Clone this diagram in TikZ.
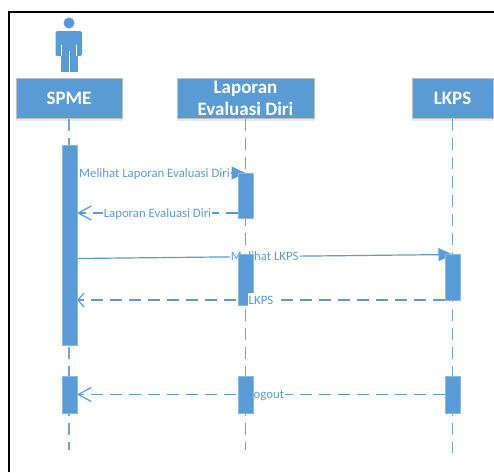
\documentclass[tikz,border=0pt]{standalone}
\usepackage{fontspec}
\setmainfont{Carlito}
\usetikzlibrary{arrows.meta,shadows}
\definecolor{umlblue}{HTML}{5B9BD5}
\begin{document}
\begin{tikzpicture}[
x=1pt,y=-1pt,
head/.style={rectangle, draw=black!25, line width=1pt, fill=umlblue, text=white, font=\fontsize{19}{22}\selectfont\bfseries, align=center, inner sep=0pt, minimum height=40pt, drop shadow={shadow xshift=0pt, shadow yshift=-3pt, fill=umlblue, opacity=.2}},
bar/.style={rectangle, fill=umlblue, draw=umlblue!70, line width=.5pt, inner sep=0pt, minimum width=15pt},
lifeline/.style={umlblue!90, line width=1.5pt, dash pattern=on 12pt off 7pt},
call/.style={umlblue, line width=1.2pt, -{Triangle[length=14pt,width=13pt]}},
back/.style={umlblue, line width=1.2pt, dash pattern=on 12pt off 7pt, -{Straight Barb[length=13pt,width=14pt]}},
backsmall/.style={umlblue, line width=1.2pt, dash pattern=on 12pt off 7pt, -{Straight Barb[length=6pt,width=14pt]}},
msg/.style={fill=white, text=umlblue, font=\fontsize{12.8}{14}\selectfont, inner xsep=1pt, inner ysep=3pt, text height=8.5pt, text depth=0pt, midway}
]
\useasboundingbox (0,0) rectangle (494,472);
\draw[line width=2pt] (9,472) -- (9,12) -- (494,12);

\fill[umlblue] (69,23) circle (5.5);
\fill[umlblue, rounded corners=1.5pt] (55.5,31) rectangle (82,56);
\fill[umlblue] (61,50) rectangle (77.5,72);
\draw[white, line width=.6pt] (69,51) -- (69,72) (61.5,45) -- (61.5,56) (76,45) -- (76,56);

\node[head, minimum width=106pt] (spme) at (69,98) {SPME};
\node[head, minimum width=137pt] (laporan) at (245.5,98) {Laporan\\Evaluasi Diri};
\node[head, minimum width=81pt] (lkps) at (452.5,98) {LKPS};

\coordinate (spmeend) at (69,450);
\coordinate (laporanend) at (245.5,450);
\coordinate (lkpsend) at (452.5,453);
\draw[lifeline] (spme.south) -- (spmeend);
\draw[lifeline] (laporan.south) -- (laporanend);
\draw[lifeline] (lkps.south) -- (lkpsend);

\coordinate (m1) at (0,173);
\coordinate (m2) at (0,213);
\coordinate (m3a) at (0,258.5);
\coordinate (m3b) at (0,254.5);
\coordinate (m4) at (0,300);
\coordinate (m5) at (0,394.5);
\coordinate (spmeright) at (77,0);
\coordinate (laporanright) at (238,0);
\coordinate (lkpsleft) at (445,0);

\draw[call] (spmeright |- m1) -- (laporan.south |- m1) node[msg, pos=.46] (lbla) {Melihat Laporan Evaluasi Diri};
\draw[back] (laporanright |- m2) -- (spmeright |- m2) node[msg] (lblb) {Laporan Evaluasi Diri};
\draw[call] (spmeright |- m3a) -- (lkps.south |- m3b) node[msg] (lblc) {Melihat LKPS};
\draw[back] (lkpsleft |- m5) -- (spmeright |- m5) node[msg, pos=.486] (lble) {Logout};

\node[bar, minimum height=200pt] (spmebara) at (69.5,245) {};
\node[bar, minimum height=37pt] (spmebarb) at (69.5,394.5) {};
\node[bar, minimum height=45pt] (laporanbara) at (245.5,195.5) {};
\node[bar, minimum height=51pt] (laporanbarb) at (245.5,279.5) {};
\node[bar, minimum height=37pt] (laporanbarc) at (245.5,394.5) {};
\node[bar, minimum height=46pt] (lkpsbara) at (452.5,277) {};
\node[bar, minimum height=37pt] (lkpsbarb) at (452.5,394.5) {};

\draw[backsmall] (lkpsbara.west |- m4) -- (spmebara.east |- m4) node[msg] (lbld) {LKPS};
\end{tikzpicture}
\end{document}
